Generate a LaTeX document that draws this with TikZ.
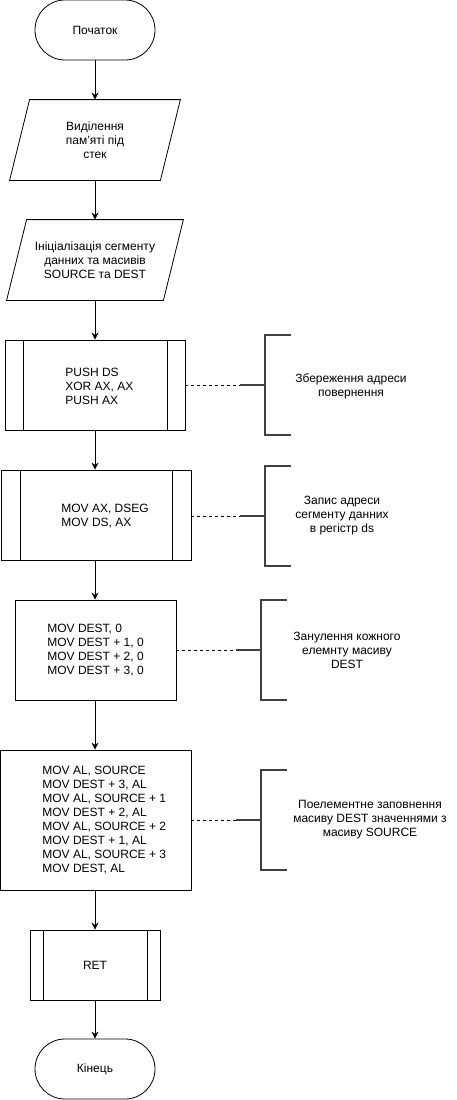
\documentclass[tikz,border=0pt]{standalone}
\usepackage{fontspec}
\setmainfont{Liberation Sans}
\usepackage{tikz}
\usetikzlibrary{arrows.meta, calc}

\begin{document}
\begin{tikzpicture}[x=1pt, y=-1pt, line width=0.8pt,
    every node/.style={font=\fontsize{12pt}{14pt}\selectfont},
    terminal/.style={draw, rounded corners=29.9pt, minimum width=120pt, minimum height=60pt},
    data/.style={minimum height=80pt, align=center},
    block/.style={draw, inner sep=0pt},
    subproc/.style={draw, inner sep=0pt, path picture={
        \draw ($(path picture bounding box.north west)!0.1!(path picture bounding box.north east)$)
            -- ($(path picture bounding box.south west)!0.1!(path picture bounding box.south east)$);
        \draw ($(path picture bounding box.north east)!0.1!(path picture bounding box.north west)$)
            -- ($(path picture bounding box.south east)!0.1!(path picture bounding box.south west)$);}},
    code/.style={anchor=west, align=left, inner sep=0pt},
    flow/.style={-{Stealth[length=7pt, width=7pt]}},
    bracketline/.style={draw=black!75, line width=2pt}]
    \useasboundingbox (0,0) rectangle (457,1100);

    \node[terminal] (start) at (95, 30) {Початок};
    \node[data, minimum width=170pt] (stack) at (95, 140) {Виділення\\пам'яті під\\стек};
    \node[data, minimum width=176pt] (init) at (95, 260) {Ініціалізація сегменту\\данних та масивів\\SOURCE та DEST};
    \foreach \p in {stack, init}
        \draw (\p.south west) -- ($(\p.south east)+(-20,0)$) -- (\p.north east)
            -- ($(\p.north west)+(20,0)$) -- cycle;
    \node[subproc, minimum width=180pt, minimum height=90pt] (push) at (95, 385) {};
    \node[code] (pushtxt) at (65, 386) {PUSH DS\\XOR AX, AX\\PUSH AX};
    \node[subproc, minimum width=190pt, minimum height=90pt] (dseg) at (96, 515) {};
    \node[code] (dsegtxt) at (61, 516) {MOV AX, DSEG\\MOV DS, AX};
    \node[block, minimum width=161pt, minimum height=100pt] (zero) at (95.5, 650) {};
    \node[code] (zerotxt) at (47, 650) {MOV DEST, 0\\MOV DEST + 1, 0\\MOV DEST + 2, 0\\MOV DEST + 3, 0};
    \node[block, minimum width=191pt, minimum height=140pt] (copy) at (95.5, 820) {};
    \node[code] (copytxt) at (42, 820) {MOV AL, SOURCE\\MOV DEST + 3, AL\\MOV AL, SOURCE + 1\\MOV DEST + 2, AL\\MOV AL, SOURCE + 2\\MOV DEST + 1, AL\\MOV AL, SOURCE + 3\\MOV DEST, AL};
    \node[subproc, minimum width=130pt, minimum height=70pt] (ret) at (95, 965) {RET};
    \node[terminal] (stop) at (95, 1069) {Кінець};

    \draw[flow] (start.south) -- (start.south |- stack.north);
    \draw[flow] (stack.south) -- (stack.south |- init.north);
    \draw[flow] (init.south) -- (init.south |- push.north);
    \draw[flow] (push.south) -- (push.south |- dseg.north);
    \draw[flow] (push.south |- dseg.south) -- (push.south |- zero.north);
    \draw[flow] (push.south |- zero.south) -- (push.south |- copy.north);
    \draw[flow] (push.south |- copy.south) -- (ret.north);
    \draw[flow] (ret.south) -- (stop.north);

    \coordinate (pushnote) at (240, 385);
    \coordinate (dsegnote) at (240, 516);
    \coordinate (zeronote) at (236, 650);
    \coordinate (copynote) at (236, 820);
    \draw[dashed, line width=0.6pt] (push.east |- pushnote) -- (pushnote);
    \draw[dashed, line width=0.6pt] (dseg.east |- dsegnote) -- (dsegnote);
    \draw[dashed, line width=0.6pt] (zero.east |- zeronote) -- (zeronote);
    \draw[dashed, line width=0.6pt] (copy.east |- copynote) -- (copynote);
    \foreach \c in {pushnote, dsegnote, zeronote, copynote}
        \draw[bracketline] (\c) -- ++(25,0) ++(26,-50) -- ++(-26,0) -- ++(0,100) -- ++(26,0);

    \node[align=center] (pushlabel) at (351, 386) {Збереження адреси\\повернення};
    \node[align=center] (dseglabel) at (342, 516) {Запис адреси\\сегменту данних\\в регістр ds};
    \node[align=center] (zerolabel) at (347, 650) {Занулення кожного\\елемнту масиву\\DEST};
    \node[align=center] (copylabel) at (370, 820) {Поелементне заповнення\\масиву DEST значеннями з\\масиву SOURCE};
\end{tikzpicture}
\end{document}
